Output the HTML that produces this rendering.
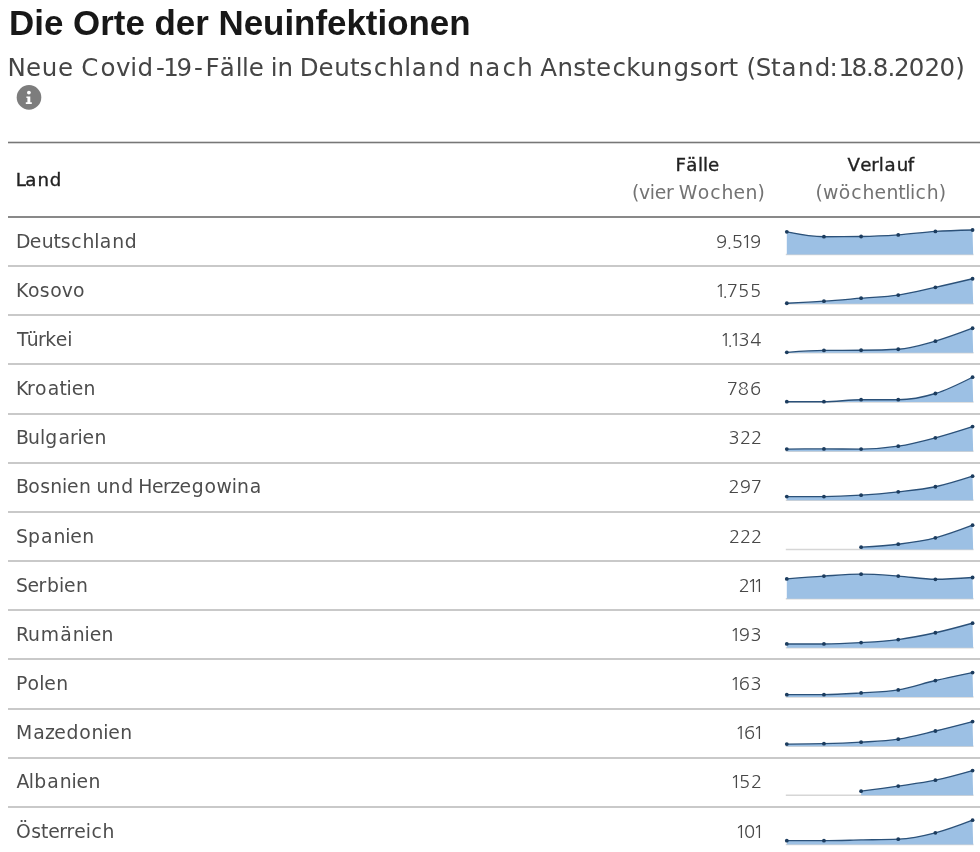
<!DOCTYPE html>
<html lang="de"><head><meta charset="utf-8"><title>Die Orte der Neuinfektionen</title>
<style>
html,body{margin:0;padding:0;background:#fff;}
body{width:980px;height:852px;overflow:hidden;}
svg{display:block;will-change:transform;}
.tt{font:bold 34.9px "Liberation Sans",Arial,sans-serif;fill:#181818;}
.sub{font:24.5px "DejaVu Sans",sans-serif;fill:#454545;}
.hd{font:18.2px "DejaVu Sans",sans-serif;fill:#222;stroke:#222;stroke-width:0.35px;}
.hs{font:18.8px "DejaVu Sans",sans-serif;fill:#737373;}
.nm{font:18.8px "DejaVu Sans",sans-serif;fill:#4d4d4d;}
.nu{font:18.4px NanumGothic,"DejaVu Sans",sans-serif;fill:#484848;}
.rl{fill:#898989;}
.sp{fill:#c9c9c9;}
.bl{stroke:#d6d6d6;stroke-width:1.5;}
.ar{fill:#9cc0e4;}
.ln{fill:none;stroke:#2b5179;stroke-width:1.35;}
.dt{fill:#1c3c5e;}
</style></head><body>
<svg width="980" height="852" viewBox="0 0 980 852">
<text class="tt" x="9.1" y="35.1">Die Orte der Neuinfektionen</text>
<text class="sub" x="7.50 26.11 41.85 58.11 73.51 81.29 100.55 116.01 130.16 137.55 155.93 163.17 176.40 194.05 205.40 219.80 235.72 241.97 248.76 264.16 270.69 277.59 293.45 299.78 318.54 334.29 349.94 359.54 373.75 388.51 404.17 411.67 428.19 444.95 461.22 468.40 485.30 502.47 517.24 533.10 540.13 557.40 573.35 586.26 596.11 612.56 626.23 640.36 656.66 673.42 689.79 703.60 718.45 728.43 737.92 746.55 755.74 770.90 781.44 797.96 814.72 829.49 836.40 838.53 851.51 866.09 872.87 887.45 893.98 908.84 924.54 939.39 955.15" y="76.30">Neue Covid-19-Fälle in Deutschland nach Ansteckungsort (Stand: 18.8.2020)</text>
<g transform="translate(17 85.4)"><circle cx="12" cy="12" r="12.3" fill="#7d7d7d"/><circle cx="11.9" cy="7.2" r="1.9" fill="#fff"/><path d="M9.4 11.2H13.3V16.9H14.8V18.6H8.8V16.9H10.4V12.7H9.4Z" fill="#fff"/></g>
<rect x="8" y="141" width="972" height="3" fill="#d6d6d6"/>
<rect x="8" y="142" width="972" height="1" fill="#777"/>
<rect x="8" y="216" width="972" height="2" class="rl"/>
<rect x="8" y="265" width="972" height="2" class="sp"/>
<rect x="8" y="314" width="972" height="2" class="sp"/>
<rect x="8" y="363" width="972" height="2" class="sp"/>
<rect x="8" y="413" width="972" height="2" class="sp"/>
<rect x="8" y="462" width="972" height="2" class="sp"/>
<rect x="8" y="511" width="972" height="2" class="sp"/>
<rect x="8" y="560" width="972" height="2" class="sp"/>
<rect x="8" y="609" width="972" height="2" class="sp"/>
<rect x="8" y="658" width="972" height="2" class="sp"/>
<rect x="8" y="708" width="972" height="2" class="sp"/>
<rect x="8" y="757" width="972" height="2" class="sp"/>
<rect x="8" y="806" width="972" height="2" class="sp"/>
<text class="hd" x="15.85 25.21 37.42 49.74" y="185.80">Land</text>
<text class="hd" x="675.54 686.22 698.08 703.00 708.01" y="171.40">Fälle</text>
<text class="hs" x="632.00 639.02 649.69 654.79 665.88 673.65 678.75 697.74 710.27 721.41 733.54 745.48 757.50" y="198.90">(vier Wochen)</text>
<text class="hd" x="847.54 860.30 871.17 878.82 884.48 896.69 907.86" y="171.40">Verlauf</text>
<text class="hs" x="815.55 822.92 838.83 851.35 862.50 874.62 886.56 898.29 905.29 909.94 915.59 926.73 938.75" y="198.90">(wöchentlich)</text>
<text class="nm" x="15.90 29.80 41.75 53.47 60.72 71.34 82.49 94.26 99.86 112.32 124.84" y="247.50">Deutschland</text>
<text class="nu" x="715.92 726.50 731.81 741.30 750.07" y="247.50">9.519</text>
<text class="nm" x="15.90 27.99 39.86 50.18 61.81 73.12" y="296.67">Kosovo</text>
<text class="nu" x="714.91 722.22 726.83 737.96 749.95" y="296.67">1.755</text>
<text class="nm" x="16.90 26.73 38.11 45.23 55.82 67.26" y="345.84">Türkei</text>
<text class="nu" x="719.95 727.26 730.07 738.44 750.14" y="345.84">1.134</text>
<text class="nm" x="15.90 26.99 35.12 47.64 59.60 66.55 71.65 83.59" y="395.01">Kroatien</text>
<text class="nu" x="726.64 737.77 750.02" y="395.01">786</text>
<text class="nm" x="15.90 28.11 39.88 45.33 58.39 70.00 77.48 82.58 94.52" y="444.18">Bulgarien</text>
<text class="nu" x="728.48 739.98 750.97" y="444.18">322</text>
<text class="nm" x="15.90 28.26 40.13 50.30 62.02 67.12 79.07 91.09 96.39 108.61 121.14 133.55 138.25 151.96 163.06 170.23 179.62 191.86 204.62 216.60 231.86 237.06 249.73" y="493.35">Bosnien und Herzegowina</text>
<text class="nu" x="728.51 739.64 750.82" y="493.35">297</text>
<text class="nm" x="16.10 27.91 40.97 53.43 65.16 70.25 82.20" y="542.52">Spanien</text>
<text class="nu" x="729.00 739.98 750.97" y="542.52">222</text>
<text class="nm" x="16.10 27.51 38.60 46.88 58.99 64.09 76.03" y="591.69">Serbien</text>
<text class="nu" x="738.74 747.22 753.34" y="591.69">211</text>
<text class="nm" x="15.90 28.01 40.79 60.36 72.82 84.54 89.64 101.58" y="640.86">Rumänien</text>
<text class="nu" x="730.05 738.82 750.45" y="640.86">193</text>
<text class="nm" x="15.90 27.61 39.23 44.28 56.22" y="690.03">Polen</text>
<text class="nu" x="729.96 738.77 750.45" y="690.03">163</text>
<text class="nm" x="15.90 33.30 44.96 54.35 66.59 79.35 91.42 103.15 108.25 120.19" y="739.20">Mazedonien</text>
<text class="nu" x="735.10 743.91 753.34" y="739.20">161</text>
<text class="nm" x="16.60 28.82 34.27 47.33 59.79 71.52 76.62 88.56" y="788.37">Albanien</text>
<text class="nu" x="730.36 738.97 750.97" y="788.37">152</text>
<text class="nm" x="16.00 31.21 40.88 48.24 59.33 66.45 74.33 85.77 91.42 102.56" y="837.54">Österreich</text>
<text class="nu" x="735.23 743.89 753.34" y="837.54">101</text>
<line x1="785.80" y1="254.50" x2="973.55" y2="254.50" class="bl"/>
<path d="M786.80,231.80C799.18,234.25,811.57,236.70,823.95,236.70C836.33,236.70,848.72,236.63,861.10,236.50C873.48,236.37,885.87,235.75,898.25,234.90C910.63,234.05,923.02,232.22,935.40,231.40C947.78,230.58,960.17,230.29,972.55,230.00L973.15,254.50L786.80,254.50Z" class="ar"/>
<path d="M786.80,231.80C799.18,234.25,811.57,236.70,823.95,236.70C836.33,236.70,848.72,236.63,861.10,236.50C873.48,236.37,885.87,235.75,898.25,234.90C910.63,234.05,923.02,232.22,935.40,231.40C947.78,230.58,960.17,230.29,972.55,230.00" class="ln"/>
<circle cx="786.80" cy="231.80" r="1.9" class="dt"/>
<circle cx="823.95" cy="236.70" r="1.9" class="dt"/>
<circle cx="861.10" cy="236.50" r="1.9" class="dt"/>
<circle cx="898.25" cy="234.90" r="1.9" class="dt"/>
<circle cx="935.40" cy="231.40" r="1.9" class="dt"/>
<circle cx="972.55" cy="230.00" r="1.9" class="dt"/>
<line x1="785.80" y1="303.67" x2="973.55" y2="303.67" class="bl"/>
<path d="M786.80,303.27C799.18,302.65,811.57,302.02,823.95,301.17C836.33,300.32,848.72,299.19,861.10,298.17C873.48,297.15,885.87,296.87,898.25,295.07C910.63,293.27,923.02,290.09,935.40,287.37C947.78,284.65,960.17,281.71,972.55,278.77L973.15,303.67L786.80,303.67Z" class="ar"/>
<path d="M786.80,303.27C799.18,302.65,811.57,302.02,823.95,301.17C836.33,300.32,848.72,299.19,861.10,298.17C873.48,297.15,885.87,296.87,898.25,295.07C910.63,293.27,923.02,290.09,935.40,287.37C947.78,284.65,960.17,281.71,972.55,278.77" class="ln"/>
<circle cx="786.80" cy="303.27" r="1.9" class="dt"/>
<circle cx="823.95" cy="301.17" r="1.9" class="dt"/>
<circle cx="861.10" cy="298.17" r="1.9" class="dt"/>
<circle cx="898.25" cy="295.07" r="1.9" class="dt"/>
<circle cx="935.40" cy="287.37" r="1.9" class="dt"/>
<circle cx="972.55" cy="278.77" r="1.9" class="dt"/>
<line x1="785.80" y1="352.84" x2="973.55" y2="352.84" class="bl"/>
<path d="M786.80,352.34C799.18,351.46,811.57,350.57,823.95,350.44C836.33,350.31,848.72,350.37,861.10,350.24C873.48,350.11,885.87,349.91,898.25,349.24C910.63,348.57,923.02,344.64,935.40,341.14C947.78,337.64,960.17,332.94,972.55,328.24L973.15,352.84L786.80,352.84Z" class="ar"/>
<path d="M786.80,352.34C799.18,351.46,811.57,350.57,823.95,350.44C836.33,350.31,848.72,350.37,861.10,350.24C873.48,350.11,885.87,349.91,898.25,349.24C910.63,348.57,923.02,344.64,935.40,341.14C947.78,337.64,960.17,332.94,972.55,328.24" class="ln"/>
<circle cx="786.80" cy="352.34" r="1.9" class="dt"/>
<circle cx="823.95" cy="350.44" r="1.9" class="dt"/>
<circle cx="861.10" cy="350.24" r="1.9" class="dt"/>
<circle cx="898.25" cy="349.24" r="1.9" class="dt"/>
<circle cx="935.40" cy="341.14" r="1.9" class="dt"/>
<circle cx="972.55" cy="328.24" r="1.9" class="dt"/>
<line x1="785.80" y1="402.01" x2="973.55" y2="402.01" class="bl"/>
<path d="M786.80,401.71C799.18,401.71,811.57,401.71,823.95,401.71C836.33,401.71,848.72,399.71,861.10,399.71C873.48,399.71,885.87,399.71,898.25,399.71C910.63,399.71,923.02,397.26,935.40,393.51C947.78,389.76,960.17,383.48,972.55,377.21L973.15,402.01L786.80,402.01Z" class="ar"/>
<path d="M786.80,401.71C799.18,401.71,811.57,401.71,823.95,401.71C836.33,401.71,848.72,399.71,861.10,399.71C873.48,399.71,885.87,399.71,898.25,399.71C910.63,399.71,923.02,397.26,935.40,393.51C947.78,389.76,960.17,383.48,972.55,377.21" class="ln"/>
<circle cx="786.80" cy="401.71" r="1.9" class="dt"/>
<circle cx="823.95" cy="401.71" r="1.9" class="dt"/>
<circle cx="861.10" cy="399.71" r="1.9" class="dt"/>
<circle cx="898.25" cy="399.71" r="1.9" class="dt"/>
<circle cx="935.40" cy="393.51" r="1.9" class="dt"/>
<circle cx="972.55" cy="377.21" r="1.9" class="dt"/>
<line x1="785.80" y1="451.18" x2="973.55" y2="451.18" class="bl"/>
<path d="M786.80,449.08C799.18,448.98,811.57,448.88,823.95,448.88C836.33,448.88,848.72,449.08,861.10,449.08C873.48,449.08,885.87,448.06,898.25,446.18C910.63,444.30,923.02,441.05,935.40,437.78C947.78,434.51,960.17,430.55,972.55,426.58L973.15,451.18L786.80,451.18Z" class="ar"/>
<path d="M786.80,449.08C799.18,448.98,811.57,448.88,823.95,448.88C836.33,448.88,848.72,449.08,861.10,449.08C873.48,449.08,885.87,448.06,898.25,446.18C910.63,444.30,923.02,441.05,935.40,437.78C947.78,434.51,960.17,430.55,972.55,426.58" class="ln"/>
<circle cx="786.80" cy="449.08" r="1.9" class="dt"/>
<circle cx="823.95" cy="448.88" r="1.9" class="dt"/>
<circle cx="861.10" cy="449.08" r="1.9" class="dt"/>
<circle cx="898.25" cy="446.18" r="1.9" class="dt"/>
<circle cx="935.40" cy="437.78" r="1.9" class="dt"/>
<circle cx="972.55" cy="426.58" r="1.9" class="dt"/>
<line x1="785.80" y1="500.35" x2="973.55" y2="500.35" class="bl"/>
<path d="M786.80,496.55C799.18,496.55,811.57,496.55,823.95,496.55C836.33,496.55,848.72,495.93,861.10,495.15C873.48,494.37,885.87,493.25,898.25,491.85C910.63,490.45,923.02,489.37,935.40,486.75C947.78,484.13,960.17,480.14,972.55,476.15L973.15,500.35L786.80,500.35Z" class="ar"/>
<path d="M786.80,496.55C799.18,496.55,811.57,496.55,823.95,496.55C836.33,496.55,848.72,495.93,861.10,495.15C873.48,494.37,885.87,493.25,898.25,491.85C910.63,490.45,923.02,489.37,935.40,486.75C947.78,484.13,960.17,480.14,972.55,476.15" class="ln"/>
<circle cx="786.80" cy="496.55" r="1.9" class="dt"/>
<circle cx="823.95" cy="496.55" r="1.9" class="dt"/>
<circle cx="861.10" cy="495.15" r="1.9" class="dt"/>
<circle cx="898.25" cy="491.85" r="1.9" class="dt"/>
<circle cx="935.40" cy="486.75" r="1.9" class="dt"/>
<circle cx="972.55" cy="476.15" r="1.9" class="dt"/>
<line x1="785.80" y1="549.52" x2="973.55" y2="549.52" class="bl"/>
<path d="M861.10,547.22C873.48,546.50,885.87,545.79,898.25,544.22C910.63,542.65,923.02,540.99,935.40,537.82C947.78,534.65,960.17,529.94,972.55,525.22L973.15,549.52L861.10,549.52Z" class="ar"/>
<path d="M861.10,547.22C873.48,546.50,885.87,545.79,898.25,544.22C910.63,542.65,923.02,540.99,935.40,537.82C947.78,534.65,960.17,529.94,972.55,525.22" class="ln"/>
<circle cx="861.10" cy="547.22" r="1.9" class="dt"/>
<circle cx="898.25" cy="544.22" r="1.9" class="dt"/>
<circle cx="935.40" cy="537.82" r="1.9" class="dt"/>
<circle cx="972.55" cy="525.22" r="1.9" class="dt"/>
<line x1="785.80" y1="598.69" x2="973.55" y2="598.69" class="bl"/>
<path d="M786.80,578.89C799.18,577.88,811.57,576.87,823.95,576.09C836.33,575.31,848.72,574.19,861.10,574.19C873.48,574.19,885.87,575.24,898.25,576.09C910.63,576.94,923.02,579.29,935.40,579.29C947.78,579.29,960.17,578.39,972.55,577.49L973.15,598.69L786.80,598.69Z" class="ar"/>
<path d="M786.80,578.89C799.18,577.88,811.57,576.87,823.95,576.09C836.33,575.31,848.72,574.19,861.10,574.19C873.48,574.19,885.87,575.24,898.25,576.09C910.63,576.94,923.02,579.29,935.40,579.29C947.78,579.29,960.17,578.39,972.55,577.49" class="ln"/>
<circle cx="786.80" cy="578.89" r="1.9" class="dt"/>
<circle cx="823.95" cy="576.09" r="1.9" class="dt"/>
<circle cx="861.10" cy="574.19" r="1.9" class="dt"/>
<circle cx="898.25" cy="576.09" r="1.9" class="dt"/>
<circle cx="935.40" cy="579.29" r="1.9" class="dt"/>
<circle cx="972.55" cy="577.49" r="1.9" class="dt"/>
<line x1="785.80" y1="647.86" x2="973.55" y2="647.86" class="bl"/>
<path d="M786.80,643.96C799.18,643.96,811.57,643.96,823.95,643.96C836.33,643.96,848.72,643.29,861.10,642.56C873.48,641.83,885.87,641.19,898.25,639.56C910.63,637.93,923.02,635.49,935.40,632.76C947.78,630.03,960.17,626.59,972.55,623.16L973.15,647.86L786.80,647.86Z" class="ar"/>
<path d="M786.80,643.96C799.18,643.96,811.57,643.96,823.95,643.96C836.33,643.96,848.72,643.29,861.10,642.56C873.48,641.83,885.87,641.19,898.25,639.56C910.63,637.93,923.02,635.49,935.40,632.76C947.78,630.03,960.17,626.59,972.55,623.16" class="ln"/>
<circle cx="786.80" cy="643.96" r="1.9" class="dt"/>
<circle cx="823.95" cy="643.96" r="1.9" class="dt"/>
<circle cx="861.10" cy="642.56" r="1.9" class="dt"/>
<circle cx="898.25" cy="639.56" r="1.9" class="dt"/>
<circle cx="935.40" cy="632.76" r="1.9" class="dt"/>
<circle cx="972.55" cy="623.16" r="1.9" class="dt"/>
<line x1="785.80" y1="697.03" x2="973.55" y2="697.03" class="bl"/>
<path d="M786.80,694.63C799.18,694.63,811.57,694.63,823.95,694.63C836.33,694.63,848.72,693.71,861.10,692.93C873.48,692.15,885.87,691.93,898.25,689.93C910.63,687.93,923.02,683.43,935.40,680.53C947.78,677.63,960.17,675.08,972.55,672.53L973.15,697.03L786.80,697.03Z" class="ar"/>
<path d="M786.80,694.63C799.18,694.63,811.57,694.63,823.95,694.63C836.33,694.63,848.72,693.71,861.10,692.93C873.48,692.15,885.87,691.93,898.25,689.93C910.63,687.93,923.02,683.43,935.40,680.53C947.78,677.63,960.17,675.08,972.55,672.53" class="ln"/>
<circle cx="786.80" cy="694.63" r="1.9" class="dt"/>
<circle cx="823.95" cy="694.63" r="1.9" class="dt"/>
<circle cx="861.10" cy="692.93" r="1.9" class="dt"/>
<circle cx="898.25" cy="689.93" r="1.9" class="dt"/>
<circle cx="935.40" cy="680.53" r="1.9" class="dt"/>
<circle cx="972.55" cy="672.53" r="1.9" class="dt"/>
<line x1="785.80" y1="746.20" x2="973.55" y2="746.20" class="bl"/>
<path d="M786.80,744.10C799.18,744.03,811.57,743.97,823.95,743.70C836.33,743.43,848.72,742.95,861.10,742.20C873.48,741.45,885.87,741.07,898.25,739.20C910.63,737.33,923.02,733.93,935.40,731.00C947.78,728.07,960.17,724.83,972.55,721.60L973.15,746.20L786.80,746.20Z" class="ar"/>
<path d="M786.80,744.10C799.18,744.03,811.57,743.97,823.95,743.70C836.33,743.43,848.72,742.95,861.10,742.20C873.48,741.45,885.87,741.07,898.25,739.20C910.63,737.33,923.02,733.93,935.40,731.00C947.78,728.07,960.17,724.83,972.55,721.60" class="ln"/>
<circle cx="786.80" cy="744.10" r="1.9" class="dt"/>
<circle cx="823.95" cy="743.70" r="1.9" class="dt"/>
<circle cx="861.10" cy="742.20" r="1.9" class="dt"/>
<circle cx="898.25" cy="739.20" r="1.9" class="dt"/>
<circle cx="935.40" cy="731.00" r="1.9" class="dt"/>
<circle cx="972.55" cy="721.60" r="1.9" class="dt"/>
<line x1="785.80" y1="795.37" x2="973.55" y2="795.37" class="bl"/>
<path d="M861.10,791.17C873.48,789.54,885.87,787.90,898.25,786.07C910.63,784.24,923.02,782.75,935.40,780.17C947.78,777.59,960.17,774.08,972.55,770.57L973.15,795.37L861.10,795.37Z" class="ar"/>
<path d="M861.10,791.17C873.48,789.54,885.87,787.90,898.25,786.07C910.63,784.24,923.02,782.75,935.40,780.17C947.78,777.59,960.17,774.08,972.55,770.57" class="ln"/>
<circle cx="861.10" cy="791.17" r="1.9" class="dt"/>
<circle cx="898.25" cy="786.07" r="1.9" class="dt"/>
<circle cx="935.40" cy="780.17" r="1.9" class="dt"/>
<circle cx="972.55" cy="770.57" r="1.9" class="dt"/>
<line x1="785.80" y1="844.54" x2="973.55" y2="844.54" class="bl"/>
<path d="M786.80,840.64C799.18,840.64,811.57,840.64,823.95,840.64C836.33,840.64,848.72,840.19,861.10,839.94C873.48,839.69,885.87,839.67,898.25,839.14C910.63,838.61,923.02,836.01,935.40,832.84C947.78,829.67,960.17,824.91,972.55,820.14L973.15,844.54L786.80,844.54Z" class="ar"/>
<path d="M786.80,840.64C799.18,840.64,811.57,840.64,823.95,840.64C836.33,840.64,848.72,840.19,861.10,839.94C873.48,839.69,885.87,839.67,898.25,839.14C910.63,838.61,923.02,836.01,935.40,832.84C947.78,829.67,960.17,824.91,972.55,820.14" class="ln"/>
<circle cx="786.80" cy="840.64" r="1.9" class="dt"/>
<circle cx="823.95" cy="840.64" r="1.9" class="dt"/>
<circle cx="898.25" cy="839.14" r="1.9" class="dt"/>
<circle cx="935.40" cy="832.84" r="1.9" class="dt"/>
<circle cx="972.55" cy="820.14" r="1.9" class="dt"/>
</svg>
</body></html>
